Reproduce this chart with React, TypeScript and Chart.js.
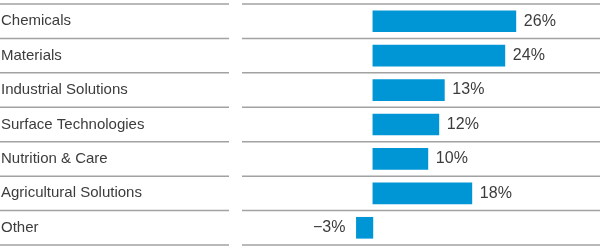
import React, { useEffect, useRef } from "react";
import { Chart, registerables } from "chart.js";

Chart.register(...registerables);

const categories = [
  "Chemicals",
  "Materials",
  "Industrial Solutions",
  "Surface Technologies",
  "Nutrition & Care",
  "Agricultural Solutions",
  "Other",
];
const values = [26, 24, 13, 12, 10, 18, -3];

const BAR_COLOR = "#0096d6";
const LINE_COLOR = "#a2a2a2";
const TEXT_COLOR = "#3c3c3c";
const FONT = "'Liberation Sans', Arial, sans-serif";

const rowLines = {
  id: "rowLines",
  beforeDatasetsDraw(chart: any) {
    const { ctx, chartArea } = chart;
    const y = chart.scales.y;
    ctx.save();
    ctx.strokeStyle = LINE_COLOR;
    ctx.lineWidth = 1.5;
    for (let i = 0; i <= categories.length; i++) {
      const py = y.getPixelForValue(i - 0.5);
      ctx.beginPath();
      ctx.moveTo(0, py);
      ctx.lineTo(229, py);
      ctx.moveTo(chartArea.left, py);
      ctx.lineTo(chartArea.right, py);
      ctx.stroke();
    }
    ctx.restore();
  },
};

const valueLabels = {
  id: "valueLabels",
  afterDatasetsDraw(chart: any) {
    const { ctx } = chart;
    const meta = chart.getDatasetMeta(0);
    ctx.save();
    ctx.font = `16px ${FONT}`;
    ctx.fillStyle = TEXT_COLOR;
    ctx.textBaseline = "middle";
    meta.data.forEach((bar: any, i: number) => {
      const v = values[i];
      const txt = `${v < 0 ? "\u2212" : ""}${Math.abs(v)}%`;
      if (v >= 0) {
        ctx.textAlign = "left";
        ctx.fillText(txt, bar.x + 8, bar.y);
      } else {
        ctx.textAlign = "right";
        ctx.fillText(txt, bar.x - 11, bar.y);
      }
    });
    ctx.restore();
  },
};

export default function App() {
  const ref = useRef<HTMLCanvasElement>(null);
  useEffect(() => {
    if (!ref.current) return;
    const chart = new Chart(ref.current, {
      type: "bar",
      data: {
        labels: categories,
        datasets: [
          {
            data: values,
            backgroundColor: BAR_COLOR,
            borderWidth: 0,
            barThickness: 21,
          },
        ],
      },
      options: {
        indexAxis: "y",
        animation: false,
        responsive: false,
        maintainAspectRatio: false,
        layout: { padding: { left: 1, top: 4, bottom: 5, right: 0 } },
        plugins: {
          legend: { display: false },
          tooltip: { enabled: false },
        },
        scales: {
          x: {
            display: false,
            min: -23.8,
            max: 41.3,
          },
          y: {
            type: "category",
            offset: true,
            grid: { display: false, drawTicks: false },
            border: { display: false },
            afterFit: (scale: any) => {
              scale.width = 241;
              scale.paddingTop = 0;
              scale.paddingBottom = 0;
            },
            ticks: {
              crossAlign: "far",
              color: TEXT_COLOR,
              font: { family: FONT, size: 15 },
              padding: 0,
            },
          },
        },
      },
      plugins: [rowLines, valueLabels],
    });
    return () => chart.destroy();
  }, []);
  return (
    <div style={{ position: "fixed", left: 0, top: 0, width: 600, height: 250, background: "#fff" }}>
      <canvas ref={ref} width={600} height={250} style={{ width: 600, height: 250 }} />
    </div>
  );
}
